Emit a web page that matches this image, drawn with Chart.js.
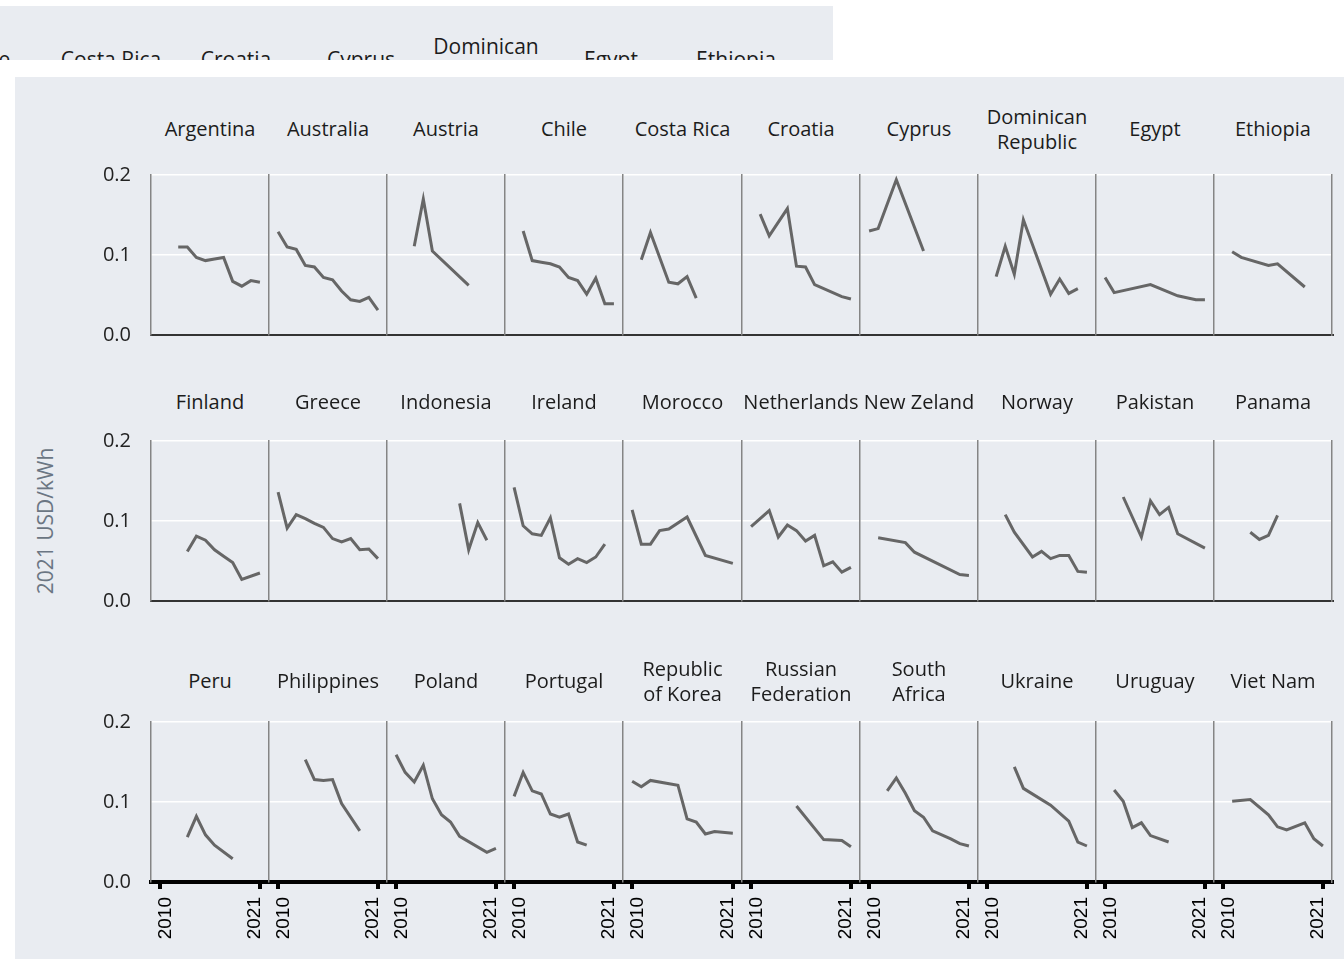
<!DOCTYPE html>
<html>
<head>
<meta charset="utf-8">
<script src="https://cdn.jsdelivr.net/npm/chart.js@4.4.1/dist/chart.umd.min.js"></script>
<style>
    body {
        margin: 0;
        width: 1344px;
        height: 959px;
        overflow: hidden;
        position: relative;
        background: #fff;
        font-family: "Open Sans", sans-serif;
    }
    .strip {
        position: absolute;
        left: 0;
        top: 6px;
        width: 833px;
        height: 54px;
        background: #e9ecf1;
        overflow: hidden;
    }
    .strip .title {
        font-size: 21px;
        line-height: 26px;
    }
    .board {
        position: absolute;
        left: 15px;
        top: 77px;
        right: 0;
        bottom: 0;
        background: #e9ecf1;
    }
    .title {
        position: absolute;
        width: 200px;
        height: 60px;
        display: flex;
        flex-direction: column;
        justify-content: center;
        align-items: center;
        text-align: center;
        font-size: 20px;
        line-height: 25px;
        color: #1c1c1c;
        white-space: nowrap;
    }
    .ytitle {
        position: absolute;
        left: 45px;
        top: 521px;
        transform: translate(-50%, -50%) rotate(-90deg);
        font-size: 21px;
        color: #6b7683;
        white-space: nowrap;
    }
    canvas {
        position: absolute;
    }
</style>
</head>
<body>
<div class="strip" id="strip"></div>
<div class="board"></div>
<div class="ytitle">2021 USD/kWh</div>

<script>
    // Data (LCOE, 2021 USD/kWh)
    const countries = ['Argentina', 'Australia', 'Austria', 'Chile', 'Costa Rica', 'Croatia', 'Cyprus',
        'Dominican Republic', 'Egypt', 'Ethiopia', 'Finland', 'Greece', 'Indonesia', 'Ireland', 'Morocco',
        'Netherlands', 'New Zeland', 'Norway', 'Pakistan', 'Panama', 'Peru', 'Philippines', 'Poland',
        'Portugal', 'Republic of Korea', 'Russian Federation', 'South Africa', 'Ukraine', 'Uruguay', 'Viet Nam'];

    const titleLines = [['Argentina'], ['Australia'], ['Austria'], ['Chile'], ['Costa Rica'], ['Croatia'], ['Cyprus'],
        ['Dominican', 'Republic'], ['Egypt'], ['Ethiopia'], ['Finland'], ['Greece'], ['Indonesia'], ['Ireland'], ['Morocco'],
        ['Netherlands'], ['New Zeland'], ['Norway'], ['Pakistan'], ['Panama'], ['Peru'], ['Philippines'], ['Poland'],
        ['Portugal'], ['Republic', 'of Korea'], ['Russian', 'Federation'], ['South', 'Africa'], ['Ukraine'], ['Uruguay'], ['Viet Nam']];

    const years = [
        [2012, 2013, 2014, 2015, 2016, 2017, 2018, 2019, 2020, 2021],
        [2010, 2011, 2012, 2013, 2014, 2015, 2016, 2017, 2018, 2019, 2020, 2021],
        [2012, 2013, 2014, 2018],
        [2011, 2012, 2013, 2014, 2015, 2016, 2017, 2018, 2019, 2020, 2021],
        [2011, 2012, 2014, 2015, 2016, 2017],
        [2011, 2012, 2014, 2015, 2016, 2017, 2020, 2021],
        [2010, 2011, 2013, 2016],
        [2011, 2012, 2013, 2014, 2017, 2018, 2019, 2020],
        [2010, 2011, 2015, 2018, 2020, 2021],
        [2011, 2012, 2015, 2016, 2019],
        [2013, 2014, 2015, 2016, 2017, 2018, 2019, 2021],
        [2010, 2011, 2012, 2013, 2014, 2015, 2016, 2017, 2018, 2019, 2020, 2021],
        [2017, 2018, 2019, 2020],
        [2010, 2011, 2012, 2013, 2014, 2015, 2016, 2017, 2018, 2019, 2020],
        [2010, 2011, 2012, 2013, 2014, 2016, 2018, 2021],
        [2010, 2012, 2013, 2014, 2015, 2016, 2017, 2018, 2019, 2020, 2021],
        [2011, 2014, 2015, 2020, 2021],
        [2012, 2013, 2015, 2016, 2017, 2018, 2019, 2020, 2021],
        [2012, 2014, 2015, 2016, 2017, 2018, 2021],
        [2013, 2014, 2015, 2016],
        [2013, 2014, 2015, 2016, 2018],
        [2013, 2014, 2015, 2016, 2017, 2019],
        [2010, 2011, 2012, 2013, 2014, 2015, 2016, 2017, 2020, 2021],
        [2010, 2011, 2012, 2013, 2014, 2015, 2016, 2017, 2018],
        [2010, 2011, 2012, 2015, 2016, 2017, 2018, 2019, 2021],
        [2015, 2018, 2020, 2021],
        [2012, 2013, 2014, 2015, 2016, 2017, 2019, 2020, 2021],
        [2013, 2014, 2017, 2019, 2020, 2021],
        [2011, 2012, 2013, 2014, 2015, 2017],
        [2011, 2013, 2015, 2016, 2017, 2019, 2020, 2021]
    ];

    const costs = [
        [0.110, 0.110, 0.097, 0.093, 0.095, 0.097, 0.067, 0.061, 0.068, 0.066],
        [0.129, 0.110, 0.107, 0.087, 0.085, 0.072, 0.069, 0.055, 0.044, 0.042, 0.047, 0.031],
        [0.111, 0.170, 0.105, 0.062],
        [0.130, 0.093, 0.091, 0.089, 0.085, 0.072, 0.068, 0.051, 0.071, 0.039, 0.039],
        [0.094, 0.128, 0.066, 0.064, 0.073, 0.046],
        [0.151, 0.124, 0.158, 0.086, 0.085, 0.063, 0.048, 0.045],
        [0.130, 0.133, 0.194, 0.105],
        [0.073, 0.111, 0.076, 0.144, 0.051, 0.070, 0.052, 0.058],
        [0.072, 0.053, 0.063, 0.049, 0.044, 0.044],
        [0.104, 0.097, 0.087, 0.089, 0.060],
        [0.062, 0.081, 0.076, 0.064, 0.056, 0.048, 0.027, 0.035],
        [0.136, 0.091, 0.108, 0.103, 0.097, 0.092, 0.078, 0.074, 0.078, 0.064, 0.065, 0.053],
        [0.122, 0.064, 0.098, 0.076],
        [0.142, 0.094, 0.084, 0.082, 0.104, 0.054, 0.046, 0.053, 0.048, 0.055, 0.071],
        [0.114, 0.071, 0.071, 0.088, 0.090, 0.105, 0.057, 0.047],
        [0.093, 0.113, 0.080, 0.095, 0.088, 0.075, 0.082, 0.044, 0.049, 0.036, 0.042],
        [0.079, 0.073, 0.061, 0.033, 0.032],
        [0.108, 0.086, 0.055, 0.062, 0.053, 0.057, 0.057, 0.037, 0.036],
        [0.130, 0.080, 0.125, 0.108, 0.117, 0.084, 0.066],
        [0.086, 0.077, 0.082, 0.107],
        [0.056, 0.082, 0.059, 0.046, 0.029],
        [0.153, 0.128, 0.127, 0.128, 0.098, 0.064],
        [0.159, 0.137, 0.125, 0.146, 0.104, 0.084, 0.075, 0.057, 0.037, 0.042],
        [0.107, 0.137, 0.114, 0.110, 0.085, 0.081, 0.085, 0.050, 0.046],
        [0.126, 0.119, 0.127, 0.121, 0.079, 0.075, 0.060, 0.063, 0.061],
        [0.095, 0.053, 0.052, 0.044],
        [0.114, 0.130, 0.111, 0.089, 0.081, 0.064, 0.054, 0.048, 0.045],
        [0.144, 0.117, 0.096, 0.076, 0.050, 0.045],
        [0.115, 0.101, 0.068, 0.074, 0.058, 0.050],
        [0.101, 0.103, 0.084, 0.069, 0.065, 0.074, 0.054, 0.045]
    ];

    const yTicks = [0, 0.1, 0.2];
    const xTicks = [2010, 2021];

    // Layout
    const left0 = 151;
    const panelW = 118.1;
    const rowTops = [175, 441, 722];
    const plotH = 160;
    const pad = 14;
    const titleMid = [128.5, 401, 680.5];
    const lineColor = '#666666';
    const sepColor = '#858585';

    function addTitle(parent, lines, cx, cy) {
        const div = document.createElement('div');
        div.className = 'title';
        div.style.left = (cx - 100) + 'px';
        div.style.top = (cy - 30) + 'px';
        lines.forEach(t => {
            const s = document.createElement('span');
            s.textContent = t;
            div.appendChild(s);
        });
        parent.appendChild(div);
    }

    // no extra padding from tick labels, keeps every plot area the same size
    function noPadding(axis) {
        axis.paddingTop = 0;
        axis.paddingBottom = 0;
        axis.paddingLeft = 0;
        axis.paddingRight = 0;
    }

    // Clipped header strip at the top
    const strip = document.getElementById('strip');
    titleLines.slice(3, 10).forEach((lines, j) => {
        addTitle(strip, lines, -14 + 125 * j, 53);
    });

    countries.forEach((name, i) => {
        const r = Math.floor(i / 10);
        const c = i % 10;
        const x0 = Math.round(left0 + c * panelW);
        const x1 = Math.round(left0 + (c + 1) * panelW);
        const yW = c === 0 ? 50 : 2;
        const rW = c === 9 ? 2 : 0;
        const bottomAxis = r === 2;
        const bottomH = bottomAxis ? 70 : pad;

        addTitle(document.body, titleLines[i], (x0 + x1) / 2, titleMid[r]);

        const canvas = document.createElement('canvas');
        const w = x1 - x0 + yW + rW;
        const h = pad + plotH + bottomH;
        canvas.width = w;
        canvas.height = h;
        canvas.style.width = w + 'px';
        canvas.style.height = h + 'px';
        canvas.style.left = (x0 - yW) + 'px';
        canvas.style.top = (rowTops[r] - pad) + 'px';
        document.body.appendChild(canvas);

        const scales = {
            x: {
                type: 'linear',
                min: 2009,
                max: 2022,
                afterBuildTicks: (axis) => {
                    axis.ticks = xTicks.map(v => ({ value: v }));
                },
                afterFit: (axis) => {
                    axis.height = bottomAxis ? 70 : 0;
                    noPadding(axis);
                },
                ticks: {
                    display: bottomAxis,
                    autoSkip: false,
                    minRotation: 90,
                    maxRotation: 90,
                    padding: 8,
                    labelOffset: -5,
                    color: '#000',
                    // first label sits right of its tick, last one left of it
                    font: (ctx) => ({
                        family: 'Liberation Sans',
                        size: 19,
                        lineHeight: ctx.index === 0 ? '11px' : 1.2
                    }),
                    callback: (v, idx) => idx === 0 ? ['', String(v)] : String(v)
                },
                grid: {
                    display: bottomAxis,
                    drawOnChartArea: false,
                    drawTicks: true,
                    tickLength: 7,
                    lineWidth: 4,
                    color: '#000'
                },
                border: {
                    display: true,
                    color: bottomAxis ? '#000' : '#333',
                    width: bottomAxis ? 4 : 2
                }
            },
            y: {
                min: 0,
                max: 0.2,
                afterBuildTicks: (axis) => {
                    axis.ticks = yTicks.map(v => ({ value: v }));
                },
                afterFit: (axis) => {
                    axis.width = yW;
                    noPadding(axis);
                },
                ticks: {
                    display: c === 0,
                    padding: 20,
                    color: '#222',
                    font: { family: 'Open Sans', size: 20 },
                    callback: (v) => v.toFixed(1)
                },
                grid: {
                    color: '#ffffff',
                    lineWidth: 1.5,
                    drawTicks: false
                },
                border: {
                    display: true,
                    color: sepColor,
                    width: 1.5
                }
            }
        };

        if (c === 9) {
            scales.yRight = {
                position: 'right',
                min: 0,
                max: 0.2,
                afterFit: (axis) => {
                    axis.width = rW;
                    noPadding(axis);
                },
                ticks: { display: false },
                grid: { display: false },
                border: { display: true, color: sepColor, width: 1.5 }
            };
        }

        new Chart(canvas, {
            type: 'line',
            data: {
                datasets: [{
                    label: name,
                    data: years[i].map((yr, k) => ({ x: yr, y: costs[i][k] })),
                    borderColor: lineColor,
                    borderWidth: 3,
                    pointRadius: 0,
                    tension: 0,
                    fill: false
                }]
            },
            options: {
                responsive: false,
                animation: false,
                devicePixelRatio: 1,
                events: [],
                layout: {
                    padding: { top: pad, bottom: bottomAxis ? 0 : pad, left: 0, right: 0 }
                },
                plugins: {
                    legend: { display: false },
                    tooltip: { enabled: false }
                },
                scales: scales
            }
        });
    });
</script>
</body>
</html>
